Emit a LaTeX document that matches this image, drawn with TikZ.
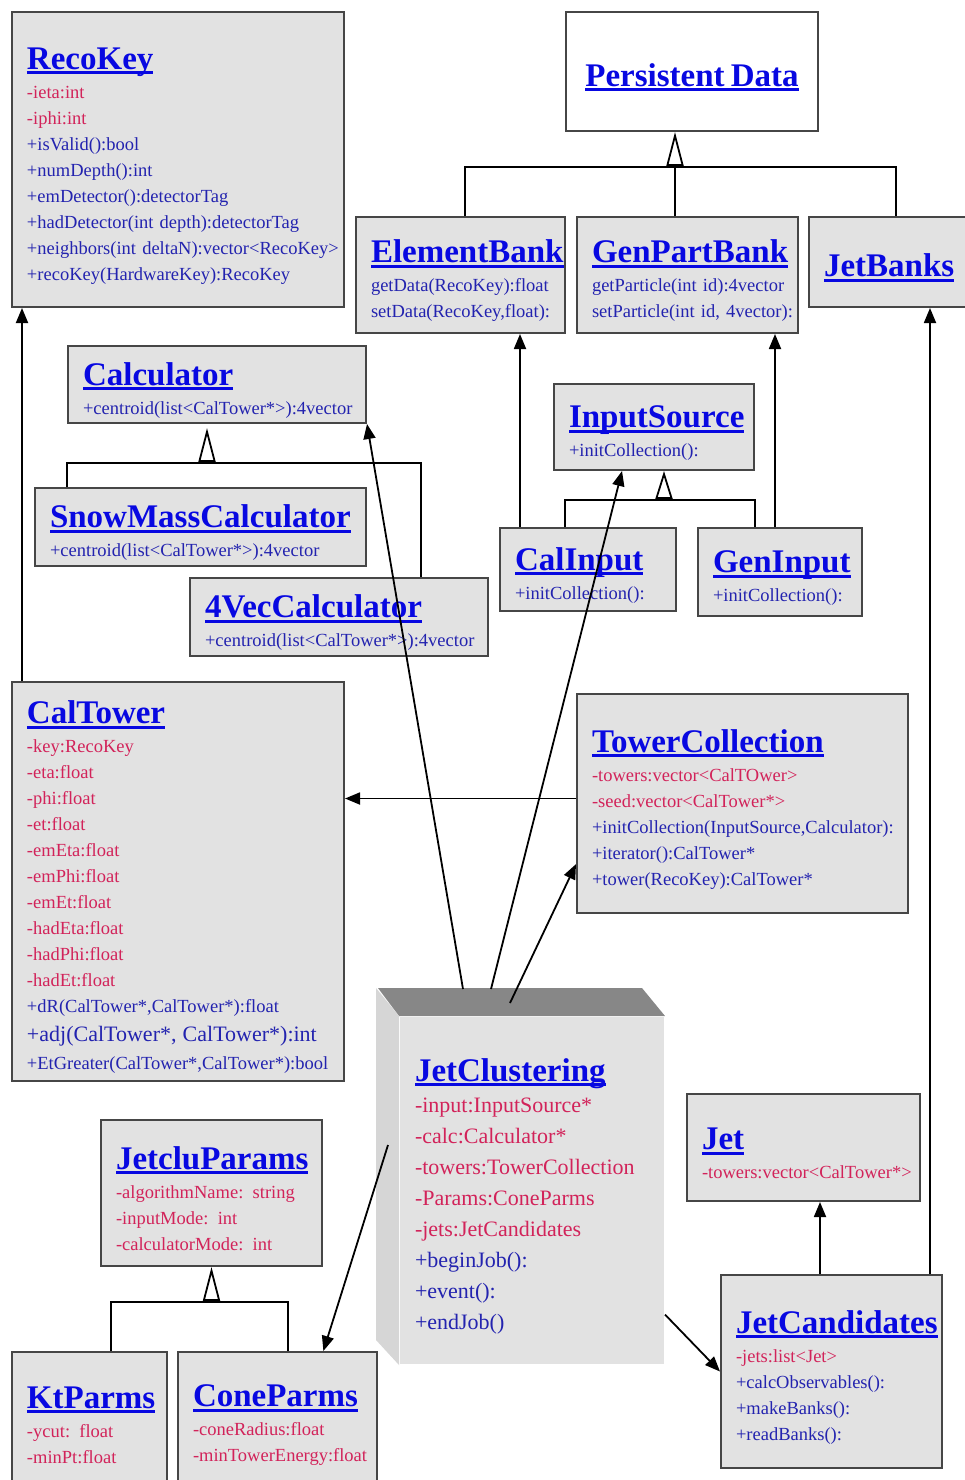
\documentclass[tikz,border=0pt]{standalone}
\usepackage{fontspec}
\setmainfont{Liberation Serif}
\usetikzlibrary{positioning,arrows.meta,calc}
\definecolor{ttlblue}{RGB}{8,8,225}
\definecolor{attred}{RGB}{210,35,90}
\definecolor{opblue}{RGB}{35,35,175}
\definecolor{granite}{RGB}{226,226,226}
\definecolor{edge}{RGB}{70,70,70}
\definecolor{topface}{RGB}{135,135,135}
\definecolor{sideface}{RGB}{214,214,214}

% class name, underlined, with a strut for the head line
\newcommand\ttl[1]{\leavevmode{\color{ttlblue}\setbox0\hbox{\fontsize{33}{33}\selectfont\bfseries #1}%
  \vtop{\copy0\kern-\dp0\kern2pt\hrule height 3pt width \wd0}}\rule{0pt}{34pt}}
\newcommand\attr[1]{\mbox{\textcolor{attred}{#1}}}
\newcommand\oper[1]{\mbox{\textcolor{opblue}{#1}}}
\newcommand\memfont{\fontsize{18.5}{26}\selectfont}
\newcommand\bigmemfont{\fontsize{22}{31}\selectfont}

\begin{document}
\begin{tikzpicture}[x=1pt, y=-1pt,
  cls/.style 2 args={draw=edge, line width=2pt, fill=granite, anchor=north west,
    inner xsep=15pt, inner ysep=0pt, minimum width=#1pt, minimum height=#2pt,
    /utils/exec={\pgfmathsetmacro\tw{#1-30}}, text width=\tw pt, align=left, font=\memfont},
  link/.style={line width=1.8pt},
  assoc/.style={link, -{Triangle[length=15pt,width=12pt]}},
  gen/.style={link, -{Triangle[open,length=#1,width=17pt]}},
  gen/.default=34pt]
  \useasboundingbox (0,0) rectangle (964,1480);

  % classes
  \node[cls={332}{295}] (reco) at (11,11) {\ttl{RecoKey}\\[3pt]
    \attr{-ieta:int}\\ \attr{-iphi:int}\\ \oper{+isValid():bool}\\ \oper{+numDepth():int}\\
    \oper{+emDetector():detectorTag}\\ \oper{+hadDetector(int depth):detectorTag}\\
    \oper{+neighbors(int deltaN):vector<RecoKey>}\\ \oper{+recoKey(HardwareKey):RecoKey}};
  \node[cls={252}{119}, fill=white, align=center] (persist) at (565,11) {\ttl{Persistent Data}};
  \node[cls={209}{116}] (elem) at (355,216) {\ttl{ElementBank}\\[3pt]
    \oper{getData(RecoKey):float}\\ \oper{setData(RecoKey,float):}};
  \node[cls={221}{116}] (genpart) at (576,216) {\ttl{GenPartBank}\\[3pt]
    \oper{getParticle(int id):4vector}\\ \oper{setParticle(int id, 4vector):}};
  \node[cls={160}{90}] (jetbanks) at (808,216) {\ttl{JetBanks}};
  \node[cls={298}{77}] (calc) at (67,345) {\ttl{Calculator}\\[3pt]
    \oper{+centroid(list<CalTower*>):4vector}};
  \node[cls={331}{78}] (snow) at (34,487) {\ttl{SnowMassCalculator}\\[3pt]
    \oper{+centroid(list<CalTower*>):4vector}};
  \node[cls={298}{78}] (fourvec) at (189,577) {\ttl{4VecCalculator}\\[3pt]
    \oper{+centroid(list<CalTower*>):4vector}};
  \node[cls={200}{86}] (input) at (553,383) {\ttl{InputSource}\\[3pt] \oper{+initCollection():}};
  \node[cls={176}{83}] (calin) at (499,527) {\ttl{CalInput}\\[3pt] \oper{+initCollection():}};
  \node[cls={164}{88}] (genin) at (697,527) {\ttl{GenInput}\\[3pt] \oper{+initCollection():}};
  \node[cls={332}{399}] (caltower) at (11,681) {\ttl{CalTower}\\[3pt]
    \attr{-key:RecoKey}\\ \attr{-eta:float}\\ \attr{-phi:float}\\ \attr{-et:float}\\
    \attr{-emEta:float}\\ \attr{-emPhi:float}\\ \attr{-emEt:float}\\
    \attr{-hadEta:float}\\ \attr{-hadPhi:float}\\ \attr{-hadEt:float}\\
    \oper{+dR(CalTower*,CalTower*):float}\\[3pt]
    {\fontsize{22}{26}\selectfont\oper{+adj(CalTower*, CalTower*):int}}\\[2pt]
    \oper{+EtGreater(CalTower*,CalTower*):bool}};
  \node[cls={331}{219}] (towcoll) at (576,693) {\ttl{TowerCollection}\\[3pt]
    \attr{-towers:vector<CalTOwer>}\\ \attr{-seed:vector<CalTower*>}\\
    \oper{+initCollection(InputSource,Calculator):}\\ \oper{+iterator():CalTower*}\\
    \oper{+tower(RecoKey):CalTower*}};
  \node[cls={233}{107}] (jet) at (686,1093) {\ttl{Jet}\\[3pt] \attr{-towers:vector<CalTower*>}};
  \node[cls={221}{193}] (jetcand) at (720,1274) {\ttl{JetCandidates}\\[3pt]
    \attr{-jets:list<Jet>}\\ \oper{+calcObservables():}\\ \oper{+makeBanks():}\\ \oper{+readBanks():}};
  \node[cls={221}{146}] (params) at (100,1119) {\ttl{JetcluParams}\\[3pt]
    \attr{-algorithmName: string}\\ \attr{-inputMode: int}\\ \attr{-calculatorMode: int}};
  \node[cls={155}{134}] (kt) at (11,1351) {\ttl{KtParms}\\[3pt]
    \attr{-ycut: float}\\ \attr{-minPt:float}};
  \node[cls={199}{134}] (cone) at (177,1351) {\ttl{ConeParms}\\[3pt]
    \attr{-coneRadius:float}\\ \attr{-minTowerEnergy:float}};

  % the component, drawn as a block
  \node[cls={264}{347}, draw=none, font=\bigmemfont] (jetclu) at (399,1016) {\ttl{JetClustering}\\
    \attr{-input:InputSource*}\\ \attr{-calc:Calculator*}\\ \attr{-towers:TowerCollection}\\
    \attr{-Params:ConeParms}\\ \attr{-jets:JetCandidates}\\
    \oper{+beginJob():}\\ \oper{+event():}\\ \oper{+endJob()}};
  \fill[topface] (jetclu.north west) -- (jetclu.north east) -- ++(-23,-28) -- ++(-264,0) -- cycle;
  \fill[sideface] (jetclu.north west) -- ++(-23,-28) -- ++(0,352) -- (jetclu.south west) -- cycle;

  % generalisation
  \coordinate (pdtip) at ([xshift=110pt]persist.south west);
  \coordinate (pdbar) at ([yshift=-35pt]pdtip);
  \draw[link] ([xshift=110pt]elem.north west) |- (pdbar) -| ([xshift=88pt]jetbanks.north west);
  \draw[gen] (pdtip |- genpart.north) -- (pdtip);

  \coordinate (cltip) at ([xshift=140pt,yshift=-4pt]calc.south west);
  \coordinate (clbar) at ([yshift=-35pt]cltip);
  \draw[link] ([xshift=33pt]snow.north west) |- (clbar) -| ([xshift=232pt]fourvec.north west);
  \draw[gen] (clbar) -- (cltip);

  \coordinate (intip) at ([xshift=111pt]input.south west);
  \coordinate (inbar) at ([yshift=-29pt]intip);
  \draw[link] ([xshift=66pt]calin.north west) |- (inbar) -| ([xshift=58pt]genin.north west);
  \draw[gen=28pt] (inbar) -- (intip);

  \coordinate (prtip) at (params.south);
  \coordinate (prbar) at ([yshift=-35pt]prtip);
  \draw[link] ([xshift=100pt]kt.north west) |- (prbar) -| ([xshift=111pt]cone.north west);
  \draw[gen] (prbar) -- (prtip);

  % associations
  \coordinate (ct) at ([xshift=11pt]caltower.north west);
  \draw[assoc] (ct) -- (ct |- reco.south);
  \coordinate (ci) at ([xshift=21pt]calin.north west);
  \draw[assoc] (ci) -- (ci |- elem.south);
  \coordinate (gi) at ([xshift=78pt]genin.north west);
  \draw[assoc] (gi) -- (gi |- genpart.south);
  \coordinate (tw) at ([yshift=5pt]towcoll.west);
  \draw[assoc] (tw) -- (tw -| caltower.east);
  \coordinate (jt) at ([xshift=100pt]jetcand.north west);
  \draw[assoc] (jt) -- (jt |- jet.south);
  \coordinate (jb) at ([xshift=210pt]jetcand.north west);
  \draw[assoc] (jb) -- (jb |- jetbanks.south);

  \coordinate (jca) at ([xshift=64pt,yshift=27pt]jetclu.north west);
  \coordinate (jcb) at ([xshift=92pt,yshift=27pt]jetclu.north west);
  \coordinate (jcc) at ([xshift=111pt,yshift=13pt]jetclu.north west);
  \coordinate (jcd) at ([xshift=-11pt,yshift=-129pt]jetclu.north west);
  \draw[assoc] (jca) -- (calc.south east);
  \draw[assoc] (jcb) -- (input.234);
  \draw[assoc] (jcc) -- (towcoll.200);
  \draw[assoc] (jcd) -- (cone.56);
  \draw[assoc] (jetclu.-43) -- (jetcand.west);
\end{tikzpicture}
\end{document}
